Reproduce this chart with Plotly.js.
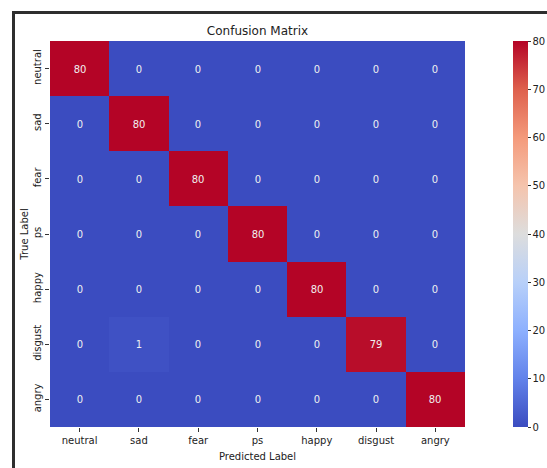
<!DOCTYPE html>
<html><head><meta charset="utf-8">
<script src="https://cdn.plot.ly/plotly-3.0.1.min.js"></script>
<style>
html,body{margin:0;padding:0;width:547px;height:468px;overflow:hidden;background:#fff;}
#frame{position:absolute;left:12px;top:11px;width:600px;height:500px;border:3px solid #2e2e2e;box-sizing:border-box;pointer-events:none;z-index:5;}
#chart{position:absolute;left:0;top:0;width:547px;height:468px;}
</style></head>
<body>
<div id="chart"></div>
<div id="frame"></div>
<script>
const labels = ["neutral","sad","fear","ps","happy","disgust","angry"];
const rowNeutral = [80,0,0,0,0,0,0];
const rowSad     = [0,80,0,0,0,0,0];
const rowFear    = [0,0,80,0,0,0,0];
const rowPs      = [0,0,0,80,0,0,0];
const rowHappy   = [0,0,0,0,80,0,0];
const rowDisgust = [0,1,0,0,0,79,0];
const rowAngry   = [0,0,0,0,0,0,80];
const cbTicks = [0,10,20,30,40,50,60,70,80];

const z = [rowNeutral,rowSad,rowFear,rowPs,rowHappy,rowDisgust,rowAngry];
const coolwarm = [
 [0.0,"rgb(59,76,192)"],[0.125,"rgb(98,130,234)"],[0.25,"rgb(141,176,254)"],
 [0.375,"rgb(184,208,249)"],[0.5,"rgb(221,221,221)"],[0.625,"rgb(245,196,173)"],
 [0.75,"rgb(244,154,123)"],[0.875,"rgb(222,96,77)"],[1.0,"rgb(180,4,38)"]
];
const font = "DejaVu Sans, sans-serif";
const W = 547, L = 50, R = 0;
const PW = W - L - R;
Plotly.newPlot("chart",[{
  type:"heatmap", x:labels, y:labels, z:z,
  zmin:0, zmax:80, colorscale:coolwarm,
  texttemplate:"%{z}", textfont:{family:font,size:10,color:"#f0f0f0"},
  xgap:0, ygap:0, hoverinfo:"skip",
  colorbar:{x:(513-L)/PW,xanchor:"left",xpad:0,ypad:0,y:0.5,yanchor:"middle",len:1,lenmode:"fraction",
    thickness:15,outlinewidth:0,ticks:"outside",ticklen:3,tickcolor:"#333",
    tickvals:cbTicks,ticktext:cbTicks.map(String),tickfont:{family:font,size:10,color:"#222"}}
}],{
  width:547,height:468,
  margin:{l:L,r:R,t:41,b:41,pad:0,autoexpand:false},
  paper_bgcolor:"#fff",plot_bgcolor:"#fff",
  title:{text:"Confusion Matrix",font:{family:font,size:12,color:"#222"},xref:"paper",x:(257.5-L)/PW,xanchor:"center",y:0.935,yanchor:"middle"},
  xaxis:{domain:[0,(465-L)/PW],type:"category",tickfont:{family:font,size:10,color:"#222"},ticks:"outside",ticklen:4,tickcolor:"#333",
    showgrid:false,zeroline:false,showline:false,
    title:{text:"Predicted Label",font:{family:font,size:10,color:"#222"},standoff:7}},
  yaxis:{type:"category",autorange:"reversed",tickangle:-90,tickfont:{family:font,size:10,color:"#222"},ticks:"outside",ticklen:4,tickcolor:"#333",
    showgrid:false,zeroline:false,showline:false,
    title:{text:"True Label",font:{family:font,size:10,color:"#222"},standoff:1}}
},{displayModeBar:false,staticPlot:true});
</script>
</body></html>
